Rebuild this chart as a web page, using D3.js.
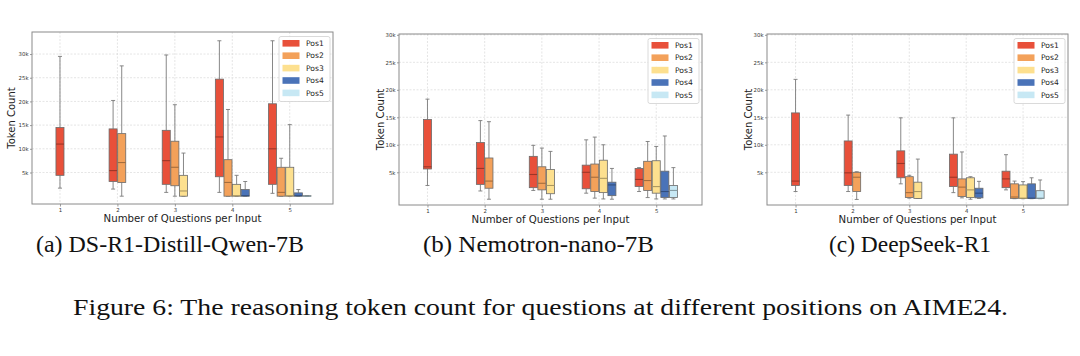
<!DOCTYPE html>
<html><head><meta charset="utf-8">
<script src="https://cdn.jsdelivr.net/npm/d3@7"></script>
<style>body{margin:0;background:#fff} svg{display:block}</style>
</head><body><svg id="c" width="1080" height="356"></svg>
<script>
// ---------- data ----------
const groups = [1, 2, 3, 4, 5];                       // Number of Questions per Input
const seriesNames = ["Pos1", "Pos2", "Pos3", "Pos4", "Pos5"];
const seriesColors = ["#e8503a", "#f3a15a", "#fde08f", "#4a73b8", "#c7e8f4"];
const yTickValues = [5000, 10000, 15000, 20000, 25000, 30000];
const yTickLabels = ["5k", "10k", "15k", "20k", "25k", "30k"];
const panelCaptions = ["(a) DS-R1-Distill-Qwen-7B", "(b) Nemotron-nano-7B", "(c) DeepSeek-R1"];
const figureCaption = "Figure 6: The reasoning token count for questions at different positions on AIME24.";
const xAxisTitle = "Number of Questions per Input";
const yAxisTitle = "Token Count";

// [low whisker, Q1, median, Q3, high whisker] in thousands of tokens; group g holds g positions
const qwenStats = [
  [[1.7, 4.4, 11.0, 14.5, 29.5]],
  [[1.5, 3.1, 5.4, 14.2, 20.2], [0.0, 2.9, 7.1, 13.2, 27.5]],
  [[0.8, 2.5, 7.5, 13.9, 29.8], [0.0, 2.2, 6.1, 11.6, 19.3], [0.0, 0.0, 1.1, 4.4, 9.1]],
  [[0.8, 4.1, 12.5, 24.7, 32.8], [0.0, 0.0, 2.9, 7.7, 18.3], [0.0, 0.0, 0.1, 2.5, 4.4], [0.0, 0.0, 0.1, 1.4, 3.1]],
  [[0.6, 2.5, 10.0, 19.5, 32.8], [0.0, 0.0, 0.8, 6.1, 8.0], [0.0, 0.0, 0.1, 6.1, 15.1], [0.0, 0.0, 0.1, 0.7, 1.4], [0.0, 0.0, 0.0, 0.1, 0.1]]
];
const nemotronStats = [
  [[2.6, 5.6, 6.0, 14.6, 18.3]],
  [[1.6, 2.8, 5.7, 10.4, 14.4], [0.1, 2.1, 3.4, 7.6, 14.2]],
  [[1.7, 2.2, 4.6, 7.9, 9.9], [0.1, 1.8, 3.0, 6.0, 9.4], [0.1, 1.1, 2.6, 5.5, 8.8]],
  [[1.2, 2.0, 5.0, 6.3, 10.9], [0.3, 1.5, 4.1, 6.5, 11.4], [0.15, 1.3, 3.9, 7.2, 10.0], [0.1, 0.75, 2.7, 3.2, 5.7]],
  [[1.5, 2.4, 3.7, 5.7, 5.85], [0.4, 1.7, 3.5, 7.0, 10.6], [0.15, 1.2, 2.4, 7.1, 9.7], [0.15, 0.4, 1.5, 5.2, 11.6], [0.15, 0.4, 1.7, 2.6, 5.85]]
];
const deepseekStats = [
  [[1.5, 2.6, 3.4, 15.8, 21.9]],
  [[1.5, 2.6, 4.9, 10.7, 15.4], [0.06, 1.5, 4.1, 5.0, 5.1]],
  [[2.9, 4.0, 6.6, 8.9, 14.9], [0.3, 0.4, 1.3, 4.2, 4.45], [0.25, 0.25, 1.5, 3.2, 7.4]],
  [[1.3, 2.4, 4.1, 8.3, 14.9], [0.35, 0.6, 2.3, 3.8, 8.7], [0.1, 0.4, 1.8, 4.0, 4.2], [0.25, 0.35, 1.2, 2.1, 3.35]],
  [[1.8, 2.2, 3.8, 5.2, 8.2], [0.2, 0.25, 0.5, 2.9, 3.4], [0.2, 0.25, 0.3, 2.7, 3.3], [0.2, 0.25, 0.3, 2.9, 4.0], [0.2, 0.25, 0.3, 1.65, 3.6]]
];

// ---------- layout (not data) ----------
const panels = [
  {stats: qwenStats,     L: 32,  R: 333,  T: 32, B: 204, xd: [0.513, 5.753], yd: [-1650, 34650], yl: 11},
  {stats: nemotronStats, L: 399, R: 702,  T: 34, B: 205, xd: [0.502, 5.80],  yd: [-950, 30150],  yl: 380},
  {stats: deepseekStats, L: 767, R: 1068, T: 34, B: 205, xd: [0.498, 5.79],  yd: [-950, 30150],  yl: 748}
];
const captionX = [36, 423, 829];
const captionW = [268, 231, 162];
const SANS = "DejaVu Sans, sans-serif";
const SERIF = "Liberation Serif, serif";
const offStep = 0.15, boxW = 0.14;

const svg = d3.select("#c");
svg.append("rect").attr("width", 1080).attr("height", 356).attr("fill", "#fff");

panels.forEach((p, pi) => {
  const g = svg.append("g");
  const x = d3.scaleLinear().domain(p.xd).range([p.L, p.R]);
  const y = d3.scaleLinear().domain(p.yd).range([p.B, p.T]);

  // grid
  g.append("g").selectAll("line").data(yTickValues).join("line")
    .attr("x1", p.L).attr("x2", p.R).attr("y1", d => y(d)).attr("y2", d => y(d))
    .attr("stroke", "#dadada").attr("stroke-width", 0.7).attr("stroke-dasharray", "2,1.5");
  g.append("g").selectAll("line").data(groups).join("line")
    .attr("y1", p.T).attr("y2", p.B).attr("x1", d => x(d)).attr("x2", d => x(d))
    .attr("stroke", "#dadada").attr("stroke-width", 0.7).attr("stroke-dasharray", "2,1.5");

  // axes
  const ya = d3.axisLeft(y).tickValues(yTickValues).tickFormat((d, i) => yTickLabels[i]).tickSize(2).tickPadding(1.5);
  const yg = g.append("g").attr("transform", `translate(${p.L},0)`).call(ya);
  const xa = d3.axisBottom(x).tickValues(groups).tickFormat(d3.format("d")).tickSize(2.5).tickPadding(1.5);
  const xg = g.append("g").attr("transform", `translate(0,${p.B})`).call(xa);
  [yg, xg].forEach(a => {
    a.select(".domain").remove();
    a.selectAll(".tick line").attr("stroke", "#555").attr("stroke-width", 0.6);
    a.selectAll("text").attr("font-family", SANS).attr("font-size", 5.4).attr("fill", "#333");
  });

  // boxes
  p.stats.forEach((grp, gi) => {
    const n = grp.length;
    grp.forEach((s, j) => {
      const [lo, q1, med, q3, hi] = s.map(v => v * 1000);
      const cx = groups[gi] + (j - (n - 1) / 2) * offStep;
      const x0 = x(cx - boxW / 2), x1 = x(cx + boxW / 2);
      const c0 = x(cx - boxW / 4), c1 = x(cx + boxW / 4);
      const col = seriesColors[j];
      const bg = g.append("g");
      bg.append("line").attr("x1", x(cx)).attr("x2", x(cx)).attr("y1", y(q3)).attr("y2", y(hi))
        .attr("stroke", "#7a7a7a").attr("stroke-width", 0.9);
      bg.append("line").attr("x1", x(cx)).attr("x2", x(cx)).attr("y1", y(q1)).attr("y2", y(lo))
        .attr("stroke", "#7a7a7a").attr("stroke-width", 0.9);
      bg.append("line").attr("x1", c0).attr("x2", c1).attr("y1", y(hi)).attr("y2", y(hi))
        .attr("stroke", "#7a7a7a").attr("stroke-width", 0.9);
      bg.append("line").attr("x1", c0).attr("x2", c1).attr("y1", y(lo)).attr("y2", y(lo))
        .attr("stroke", "#7a7a7a").attr("stroke-width", 0.9);
      bg.append("rect").attr("x", x0).attr("width", x1 - x0)
        .attr("y", y(q3)).attr("height", Math.max(0.3, y(q1) - y(q3)))
        .attr("fill", col).attr("stroke", "#6a6a6a").attr("stroke-width", 0.8);
      bg.append("line").attr("x1", x0).attr("x2", x1).attr("y1", y(med)).attr("y2", y(med))
        .attr("stroke", d3.color(col).darker(1.1)).attr("stroke-width", 1.1);
    });
  });

  // frame
  g.append("rect").attr("x", p.L).attr("y", p.T).attr("width", p.R - p.L).attr("height", p.B - p.T)
    .attr("fill", "none").attr("stroke", "#8a8a8a").attr("stroke-width", 1);

  // legend
  const lw = 51, lh = 65, lx = p.R - lw - 3, ly = p.T + 4.5;
  const lg = g.append("g");
  lg.append("rect").attr("x", lx).attr("y", ly).attr("width", lw).attr("height", lh).attr("rx", 2)
    .attr("fill", "#fff").attr("fill-opacity", 0.85).attr("stroke", "#d0d0d0").attr("stroke-width", 0.8);
  seriesNames.forEach((nm, i) => {
    const ry = ly + 6.8 + i * 12.4;
    lg.append("rect").attr("x", lx + 3.5).attr("y", ry - 3.3).attr("width", 17).attr("height", 6.6)
      .attr("fill", seriesColors[i]);
    lg.append("text").attr("x", lx + 27).attr("y", ry).attr("dy", "0.35em")
      .attr("font-family", SANS).attr("font-size", 7.6).attr("fill", "#222").text(nm);
  });

  // axis titles
  g.append("text").attr("x", (p.L + p.R) / 2).attr("y", p.B + 18).attr("text-anchor", "middle")
    .attr("font-family", SANS).attr("font-size", 10.2).attr("fill", "#222").text(xAxisTitle);
  g.append("text").attr("transform", `translate(${p.yl},${(p.T + p.B) / 2}) rotate(-90)`)
    .attr("text-anchor", "middle").attr("dy", "0.35em")
    .attr("font-family", SANS).attr("font-size", 10).attr("fill", "#222").text(yAxisTitle);

  // panel caption
  svg.append("text").attr("x", captionX[pi]).attr("y", 252)
    .attr("textLength", captionW[pi]).attr("lengthAdjust", "spacingAndGlyphs")
    .attr("font-family", SERIF).attr("font-size", 23.5).attr("fill", "#111").text(panelCaptions[pi]);
});

svg.append("text").attr("x", 73).attr("y", 314.5)
  .attr("textLength", 935).attr("lengthAdjust", "spacingAndGlyphs")
  .attr("font-family", SERIF).attr("font-size", 23.5).attr("fill", "#111").text(figureCaption);
</script>
</body></html>
